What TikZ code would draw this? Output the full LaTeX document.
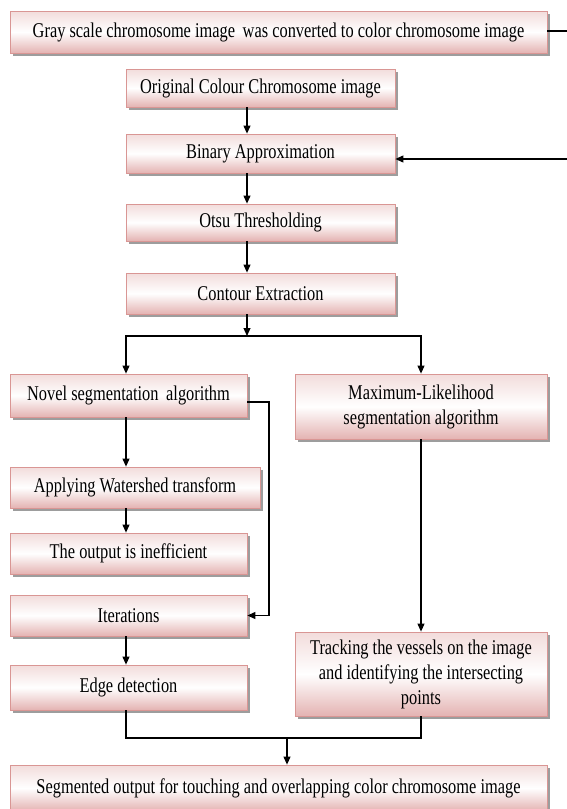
\documentclass[tikz,border=0pt]{standalone}
\usepackage{fontspec}
\setmainfont[FakeStretch=0.78]{Liberation Serif}
\usetikzlibrary{arrows.meta,shadows,calc}
\definecolor{boxborder}{HTML}{D99694}
\definecolor{pinktop}{HTML}{F2DCDB}
\definecolor{pinkbot}{HTML}{E4B3B2}
\tikzset{
  flowbox/.style={draw=boxborder, line width=0.8pt,
    top color=pinktop, bottom color=pinkbot, middle color=white,
    drop shadow={shadow xshift=3pt, shadow yshift=-3pt, fill=black!55, opacity=0.7},
    inner sep=0pt, align=center, anchor=center,
    font=\fontsize{21}{25}\selectfont, text=black},
  conn/.style={line width=1.1pt, black},
  arr/.style={conn, -{Triangle[length=8pt,width=7pt]}},
}
\begin{document}
\begin{tikzpicture}[x=1pt,y=-1pt]
\useasboundingbox (0,0) rectangle (567,809);
% boxes
\node[flowbox, minimum width=537pt, minimum height=42pt] (T) at (278.5,32)
  {Gray scale chromosome image\, was converted to color chromosome image};
\node[flowbox, minimum width=269pt, minimum height=38pt] (O) at (260.5,88)
  {Original Colour Chromosome image};
\node[flowbox, minimum width=269pt, minimum height=39pt] (B) at (260.5,153.5)
  {Binary Approximation};
\node[flowbox, minimum width=269pt, minimum height=37pt] (Ot) at (260.5,222.5)
  {Otsu Thresholding};
\node[flowbox, minimum width=269pt, minimum height=41pt] (C) at (260.5,293.5)
  {Contour Extraction};
\node[flowbox, minimum width=237pt, minimum height=43pt] (N) at (128.5,395.5)
  {Novel segmentation\, algorithm};
\node[flowbox, minimum width=252pt, minimum height=65pt] (M) at (421,406.5)
  {Maximum-Likelihood\\segmentation algorithm};
\node[flowbox, minimum width=250pt, minimum height=41pt] (W) at (135,487.5)
  {Applying Watershed transform};
\node[flowbox, minimum width=237pt, minimum height=41pt] (Ou) at (128.5,553.5)
  {The output is inefficient};
\node[flowbox, minimum width=237pt, minimum height=41pt] (I) at (128.5,615.5)
  {Iterations};
\node[flowbox, minimum width=237pt, minimum height=45pt] (E) at (128.5,687.5)
  {Edge detection};
\node[flowbox, minimum width=252pt, minimum height=84pt] (Tr) at (421,674)
  {Tracking the vessels on the image\\and identifying the intersecting\\points};
\node[flowbox, minimum width=537pt, minimum height=46pt] (F) at (278.5,788)
  {Segmented output for touching and overlapping color chromosome image};
% helper coordinates
\coordinate (mainx) at (247,0);
\coordinate (leftx) at (126,0);
\coordinate (rightx) at (421,0);
\coordinate (junc) at (247,336);
\coordinate (fbtop) at (269,402);
\coordinate (mline) at (0,738);
\coordinate (merge) at (287,738);
\coordinate (outer) at (580,0);
\coordinate (toprow) at (0,31);
\coordinate (brow) at (0,159);
% connectors
\draw[arr] (O.south -| mainx) -- (B.north -| mainx);
\draw[arr] (B.south -| mainx) -- (Ot.north -| mainx);
\draw[arr] (Ot.south -| mainx) -- (C.north -| mainx);
\draw[arr] (C.south -| mainx) -- (junc);
\draw[arr] (junc) -| (N.north -| leftx);
\draw[arr] (junc) -| (M.north -| rightx);
\draw[arr] (N.south -| leftx) -- (W.north -| leftx);
\draw[arr] (W.south -| leftx) -- (Ou.north -| leftx);
\draw[arr] (I.south -| leftx) -- (E.north -| leftx);
\draw[arr] (N.east |- fbtop) -- (fbtop) |- (I.east);
\draw[arr] (M.south -| rightx) -- (Tr.north -| rightx);
\draw[conn] (E.south -| leftx) -- (mline -| leftx) -- (mline -| rightx) -- (Tr.south -| rightx);
\draw[arr] (merge) -- (F.north -| merge);
\draw[arr] (T.east |- toprow) -- (outer |- toprow) -- (outer |- brow) -- (B.east |- brow);
\end{tikzpicture}
\end{document}
